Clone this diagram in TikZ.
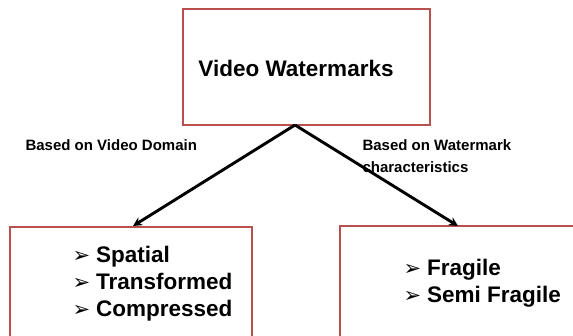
\documentclass[tikz,border=0pt]{standalone}
\usepackage{fontspec}
\setmainfont{Liberation Sans}
\newfontfamily\symfont{DejaVu Sans}
\usetikzlibrary{arrows.meta}
\definecolor{boxred}{RGB}{185,80,80}
\tikzset{
  x=1pt, y=1pt,
  frame/.style={draw=boxred, line width=2pt, fill=white},
  branch/.style={line width=2.9pt, -{Stealth[length=9pt,width=9pt]}},
  title/.style={font=\bfseries\fontsize{22.5}{26}\selectfont},
  lbl/.style={font=\bfseries\fontsize{15}{22}\selectfont, align=left, anchor=west},
  items/.style={font=\bfseries\fontsize{22.5}{27}\selectfont, align=left, anchor=west},
}
\newcommand{\bul}{{\symfont\fontsize{21}{27}\selectfont ➢}\hspace{6pt}}
\begin{document}
\begin{tikzpicture}
\useasboundingbox (0,0) rectangle (573,-336);
\begin{scope}
\clip (0,0) rectangle (573,-336);
% top box
\draw[frame] (183,-9) rectangle (430,-125);
\node[title] (top) at (296,-68) {Video Watermarks};
\coordinate (apex) at (295,-125);
% lower boxes
\draw[frame] (10,-227) rectangle (252,-350);
\draw[frame] (340,-226) rectangle (590,-350);
\coordinate (lt) at (133,-226);
\coordinate (rt) at (458,-226);
\draw[branch] (apex) -- (lt);
\draw[branch] (apex) -- (rt);
% branch labels
\node[lbl] (l1) at (22,-145) {Based on Video Domain};
\node[lbl] (l2) at (359,-156) {Based on Watermark\\characteristics};
% item lists
\node[items] (li) at (69,-284) {\bul Spatial\\\bul Transformed\\\bul Compressed};
\node[items] (ri) at (400,-283) {\bul Fragile\\\bul Semi Fragile};
\end{scope}
\end{tikzpicture}
\end{document}
